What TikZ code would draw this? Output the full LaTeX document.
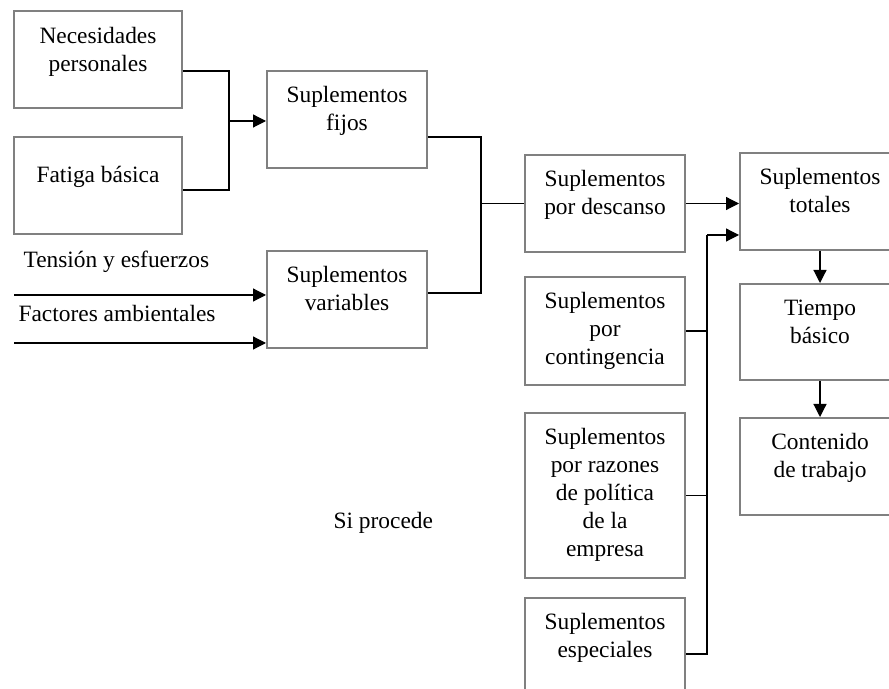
\documentclass[tikz,border=0pt]{standalone}
\usepackage{fontspec}
\setmainfont{Liberation Serif}
\usepackage{tikz}
\usetikzlibrary{arrows.meta,calc,positioning}
\definecolor{boxgray}{RGB}{128,128,128}
\begin{document}
\begin{tikzpicture}[x=0.5pt,y=-0.5pt,line width=0.6pt,
  box/.style={draw=boxgray,line width=1pt,minimum width=80pt,minimum height=48.5pt,inner sep=0pt},
  txt/.style={align=center,inner sep=0pt,font=\fontsize{11.7pt}{14pt}\selectfont},
  arr/.style={-{Triangle[length=6.5pt,width=6.5pt]}}]
\useasboundingbox (0,0) rectangle (889,689);
\clip (0,0) rectangle (889,689);
% boxes
\node[box,minimum width=84pt] (necesidades) at (98,60) {};
\node[box,minimum width=84pt] (fatiga) at (98,185.5) {};
\node[box] (fijos) at (347,119.5) {};
\node[box] (variables) at (347,299.5) {};
\node[box] (descanso) at (605,203.5) {};
\node[box,minimum height=54pt] (contingencia) at (605,331) {};
\node[box,minimum height=82.5pt] (razones) at (605,495.5) {};
\node[box,minimum height=65pt] (especiales) at (605,663) {};
\node[box] (totales) at (820,201.5) {};
\node[box,minimum height=48pt] (tiempo) at (820,332) {};
\node[box] (contenido) at (820,466.5) {};
% box texts
\node[txt,below=8pt of necesidades.north] {Necesidades\\personales};
\node[txt,below=15pt of fatiga.north] {Fatiga básica};
\node[txt,below=8pt of fijos.north] {Suplementos\\fijos};
\node[txt,below=8pt of variables.north] {Suplementos\\variables};
\node[txt,below=8pt of descanso.north] {Suplementos\\por descanso};
\node[txt,below=8pt of contingencia.north] {Suplementos\\por\\contingencia};
\node[txt,below=8pt of razones.north] {Suplementos\\por razones\\de política\\de la\\empresa};
\node[txt,below=8pt of especiales.north] {Suplementos\\especiales};
\node[txt,below=8pt of totales.north] {Suplementos\\totales};
\node[txt,below=8pt of tiempo.north] {Tiempo\\básico};
\node[txt,below=8pt of contenido.north] {Contenido\\de trabajo};
% free texts
\node[txt,anchor=base west] (tension) at (23,268) {Tensión y esfuerzos};
\node[txt,anchor=base west] (factores) at (18,322) {Factores ambientales};
\node[txt,anchor=base west] (procede) at (333,529) {Si procede};
% connectors
\coordinate (j1) at (229,121);
\draw (necesidades.east |- 0,71) -| (j1);
\draw (fatiga.east |- 0,190) -| (j1);
\draw[arr] (j1) -- (fijos.west |- j1);
\coordinate (t1) at (14,295);
\coordinate (t2) at (14,343);
\draw[arr] (t1) -- (variables.west |- t1);
\draw[arr] (t2) -- (variables.west |- t2);
\coordinate (j2) at (481,203.5);
\draw (fijos.east |- 0,137) -| (j2);
\draw (variables.east |- 0,293) -| (j2);
\draw (j2) -- (descanso.west);
\draw[arr] (descanso.east) -- (totales.west |- descanso.east);
\coordinate (j3) at (707,235);
\draw[arr] (j3) -- (totales.west |- j3);
\draw (j3) |- (especiales.east |- 0,654);
\draw (contingencia.east) -- (contingencia.east -| j3);
\draw (razones.east) -- (razones.east -| j3);
\draw[arr] (totales) -- (tiempo);
\draw[arr] (tiempo) -- (contenido);
\end{tikzpicture}
\end{document}
